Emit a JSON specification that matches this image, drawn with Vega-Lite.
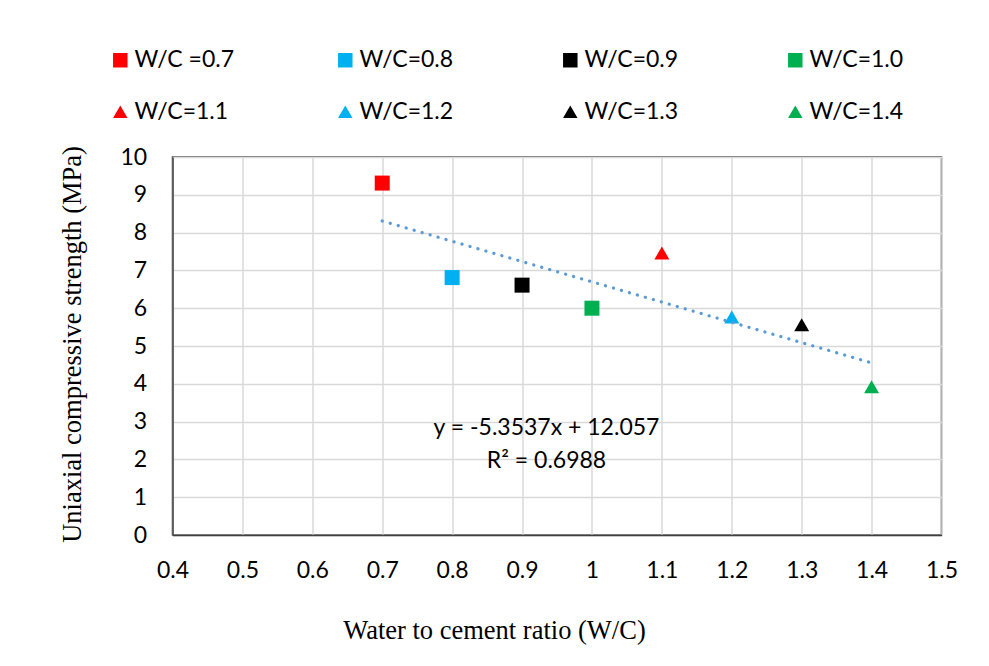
{
  "$schema": "https://vega.github.io/schema/vega-lite/v6.json",
  "width": 769,
  "height": 378,
  "autosize": {"type": "none"},
  "padding": {"left": 172.5, "top": 157, "right": 47.5, "bottom": 131},
  "background": "white",
  "config": {
    "view": {"stroke": "#404040", "strokeWidth": 1.5},
    "font": "Lato",
    "axis": {
      "labelFont": "Lato",
      "labelFontSize": 23,
      "labelColor": "#000000",
      "labelFlush": false,
      "labelOverlap": false,
      "labelBound": false,
      "ticks": false,
      "tickSize": 0,
      "domainColor": "#404040",
      "domainWidth": 1.5,
      "gridColor": "#d9d9d9",
      "gridWidth": 1.5,
      "titleFont": "Liberation Serif",
      "titleFontSize": 26.5,
      "titleFontWeight": "normal",
      "titleColor": "#000000"
    },
    "legend": {
      "orient": "none",
      "legendX": -63.7,
      "legendY": -108.5,
      "columns": 4,
      "gridAlign": "all",
      "columnPadding": 99,
      "rowPadding": 27.7,
      "labelFont": "Lato",
      "labelFontSize": 23,
      "labelColor": "#000000",
      "labelOffset": 2.6,
      "symbolSize": 210,
      "symbolStrokeWidth": 0,
      "padding": 0,
      "title": null
    }
  },
  "data": {
    "values": [
      {"wc": 0.7, "ucs": 9.31, "series": "W/C =0.7"},
      {"wc": 0.8, "ucs": 6.81, "series": "W/C=0.8"},
      {"wc": 0.9, "ucs": 6.61, "series": "W/C=0.9"},
      {"wc": 1.0, "ucs": 6.0, "series": "W/C=1.0"},
      {"wc": 1.1, "ucs": 7.46, "series": "W/C=1.1"},
      {"wc": 1.2, "ucs": 5.77, "series": "W/C=1.2"},
      {"wc": 1.3, "ucs": 5.56, "series": "W/C=1.3"},
      {"wc": 1.4, "ucs": 3.92, "series": "W/C=1.4"}
    ]
  },
  "layer": [
    {
      "mark": {"type": "point", "filled": true, "size": 225, "opacity": 1},
      "encoding": {
        "x": {
          "field": "wc",
          "type": "quantitative",
          "scale": {"domain": [0.4, 1.5], "nice": false, "zero": false},
          "axis": {
            "values": [0.4, 0.5, 0.6, 0.7, 0.8, 0.9, 1, 1.1, 1.2, 1.3, 1.4, 1.5],
            "tickCount": 12,
            "format": "~g",
            "labelPadding": 24.4,
            "title": "Water to cement ratio (W/C)",
            "titleBaseline": "alphabetic",
            "titleAlign": "center",
            "titleX": 321.5,
            "titleY": 103.3
          }
        },
        "y": {
          "field": "ucs",
          "type": "quantitative",
          "scale": {"domain": [0, 10], "nice": false, "zero": true},
          "axis": {
            "values": [0, 1, 2, 3, 4, 5, 6, 7, 8, 9, 10],
            "tickCount": 11,
            "format": "d",
            "labelPadding": 25.8,
            "title": "Uniaxial compressive strength (MPa)",
            "titleAngle": -90,
            "titleBaseline": "alphabetic",
            "titleAlign": "center",
            "titleX": -92,
            "titleY": 187
          }
        },
        "color": {
          "field": "series",
          "type": "nominal",
          "scale": {
            "domain": ["W/C =0.7", "W/C=1.1", "W/C=0.8", "W/C=1.2", "W/C=0.9", "W/C=1.3", "W/C=1.0", "W/C=1.4"],
            "range": ["#ff0000", "#ff0000", "#00b0f0", "#00b0f0", "#000000", "#000000", "#00b050", "#00b050"]
          }
        },
        "shape": {
          "field": "series",
          "type": "nominal",
          "scale": {
            "domain": ["W/C =0.7", "W/C=1.1", "W/C=0.8", "W/C=1.2", "W/C=0.9", "W/C=1.3", "W/C=1.0", "W/C=1.4"],
            "range": ["square", "triangle-up", "square", "triangle-up", "square", "triangle-up", "square", "triangle-up"]
          }
        }
      }
    },
    {
      "transform": [{"regression": "ucs", "on": "wc"}],
      "mark": {"type": "line", "color": "#5b9bd5", "strokeWidth": 3.2, "strokeDash": [0.1, 8.2], "strokeCap": "round"},
      "encoding": {
        "x": {"field": "wc", "type": "quantitative"},
        "y": {"field": "ucs", "type": "quantitative"}
      }
    },
    {
      "data": {"values": [{}]},
      "mark": {"type": "text", "font": "Lato", "fontSize": 23, "color": "#000000", "align": "center", "baseline": "alphabetic"},
      "encoding": {
        "x": {"datum": 0.935, "type": "quantitative"},
        "y": {"datum": 2.645, "type": "quantitative"},
        "text": {"value": "y = -5.3537x + 12.057"}
      }
    },
    {
      "data": {"values": [{}]},
      "mark": {"type": "text", "font": "Lato", "fontSize": 23, "color": "#000000", "align": "center", "baseline": "alphabetic"},
      "encoding": {
        "x": {"datum": 0.935, "type": "quantitative"},
        "y": {"datum": 1.783, "type": "quantitative"},
        "text": {"value": "R² = 0.6988"}
      }
    }
  ]
}
